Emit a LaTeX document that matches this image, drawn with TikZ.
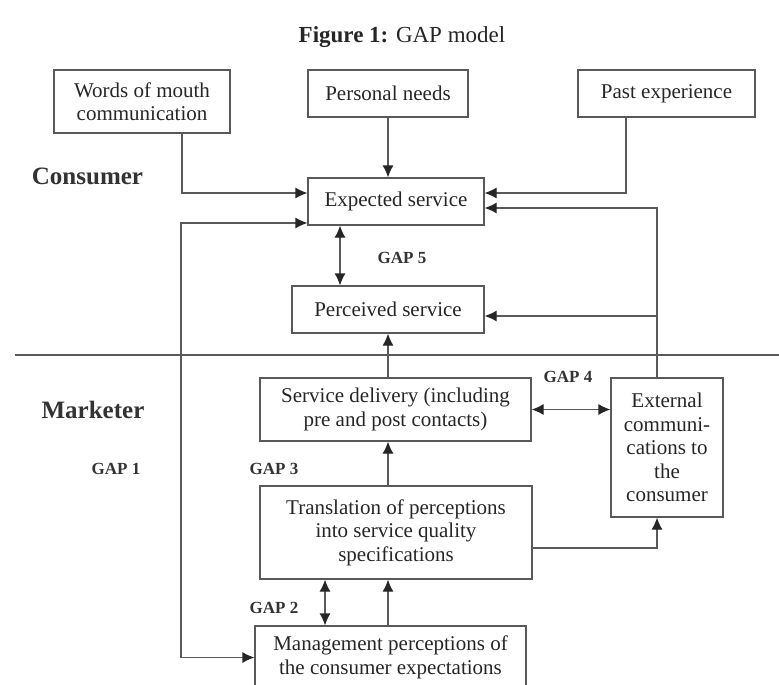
\documentclass[tikz,border=0pt]{standalone}
\usepackage{fontspec}
\setmainfont{Liberation Serif}
\usetikzlibrary{arrows.meta,positioning}
\tikzset{
    basic/.style = {draw=black!65, line width=0.6pt, rectangle, text=black!85, inner sep=2pt},
    box/.style   = {basic, align=center, font=\fontsize{10.5}{11.75}\selectfont},
    side label/.style = {font=\fontsize{12.5}{14}\selectfont\bfseries, text=black!80},
    gap label/.style  = {font=\fontsize{8.5}{10}\selectfont\bfseries, text=black!80},
    link/.style  = {draw=black!65, line width=0.6pt}
}
\begin{document}
\begin{tikzpicture}[x=0.5pt, y=-0.5pt, >={Latex[length=6pt,width=5.5pt,color=black!85]}]
    \useasboundingbox (0,0) rectangle (779,684);

    \node[font=\fontsize{11.5}{13}\selectfont, text=black!85] (title) at (402,37) {\textbf{Figure 1:} GAP model};

    % consumer side
    \node[box, minimum width=88pt, minimum height=31.5pt] (words) at (142,101.5) {Words of mouth\\communication};
    \node[box, minimum width=80pt, minimum height=23.5pt] (needs) at (388,93.5) {Personal needs};
    \node[box, minimum width=88.5pt, minimum height=23.5pt] (past) at (666.5,93.5) {Past experience};
    \node[box, minimum width=88pt, minimum height=23.5pt] (expected) at (396,201.5) {Expected service};
    \node[box, minimum width=96pt, minimum height=23.5pt] (perceived) at (388,309.5) {Perceived service};

    % marketer side
    \node[box, minimum width=135.5pt, minimum height=31.5pt] (delivery) at (395.5,409.5) {Service delivery (including\\pre and post contacts)};
    \node[box, minimum width=56pt, minimum height=69.5pt] (external) at (667,447.5) {External\\communi-\\cations to\\the\\consumer};
    \node[box, minimum width=136pt, minimum height=46.5pt] (translation) at (396,532.5) {Translation of perceptions\\into service quality\\specifications};
    \node[box, minimum width=135.5pt, minimum height=31.5pt] (management) at (390.5,657.5) {Management perceptions of\\the consumer expectations};

    \node[side label] (consumer) at (87.5,176) {Consumer};
    \node[side label] (marketer) at (93,410) {Marketer};
    \node[gap label] (gap1) at (116,469) {GAP 1};
    \node[gap label] (gap2) at (274,608) {GAP 2};
    \node[gap label] (gap3) at (274,469) {GAP 3};
    \node[gap label] (gap4) at (568,377) {GAP 4};
    \node[gap label] (gap5) at (402,258) {GAP 5};

    \coordinate (divl) at (15,355);
    \coordinate (divr) at (779,355);
    \draw[link] (divl) -- (divr);

    \coordinate (extup) at ([xshift=-5pt]external.north);
    \coordinate (extdown) at ([xshift=-5pt]external.south);
    \coordinate (perin) at ([yshift=-3.25pt]perceived.east);
    \coordinate (gapone) at (181,440);
    \coordinate (gapfive) at ([xshift=-28pt]expected.south);
    \coordinate (gaptwo) at ([xshift=-35.5pt]translation.south);

    \draw[link,->] ([xshift=20pt]words.south) |- ([yshift=4.25pt]expected.west);
    \draw[link,->] (needs.south) -- (needs.south |- expected.north);
    \draw[link,->] ([xshift=-20.25pt]past.south) |- ([yshift=4.25pt]expected.east);
    \draw[link,->] (extup) |- ([yshift=-3.25pt]expected.east);
    \draw[link,->] (extup |- perin) -- (perin);
    \draw[link,<->] ([yshift=-10.75pt]expected.west) -| (gapone) |- (management.west);
    \draw[link,<->] (gapfive) -- (gapfive |- perceived.north);
    \draw[link,->] (delivery.north -| perceived.south) -- (perceived.south);
    \draw[link,<->] (delivery.east) -- (delivery.east -| external.west);
    \draw[link,->] (translation.north -| perceived.south) -- (delivery.south -| perceived.south);
    \draw[link,->] ([yshift=-7.75pt]translation.east) -| (extdown);
    \draw[link,<->] (gaptwo) -- (gaptwo |- management.north);
    \draw[link,->] (management.north -| perceived.south) -- (translation.south -| perceived.south);
\end{tikzpicture}
\end{document}
